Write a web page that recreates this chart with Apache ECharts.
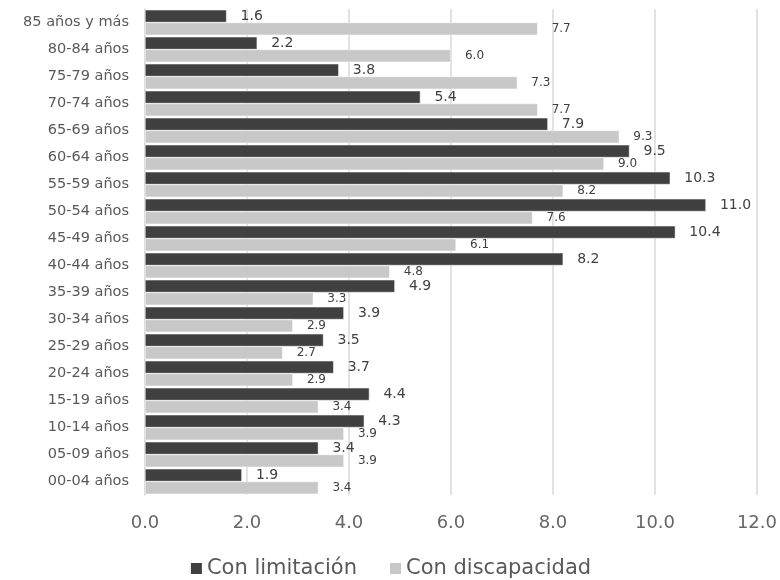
<!DOCTYPE html>
<html><head><meta charset="utf-8">
<script src="https://cdn.jsdelivr.net/npm/echarts@6/dist/echarts.min.js"></script>
<style>html,body{margin:0;padding:0;background:#fff}#c{width:780px;height:580px}</style>
</head><body><div id="c"></div>
<script>
const categories = ["85 años y más","80-84 años","75-79 años","70-74 años","65-69 años","60-64 años","55-59 años","50-54 años","45-49 años","40-44 años","35-39 años","30-34 años","25-29 años","20-24 años","15-19 años","10-14 años","05-09 años","00-04 años"];
const conLimitacion = [1.6,2.2,3.8,5.4,7.9,9.5,10.3,11.0,10.4,8.2,4.9,3.9,3.5,3.7,4.4,4.3,3.4,1.9];
const conDiscapacidad = [7.7,6.0,7.3,7.7,9.3,9.0,8.2,7.6,6.1,4.8,3.3,2.9,2.7,2.9,3.4,3.9,3.9,3.4];
const xTicks = {min:0, max:12, interval:2};

const font = 'DejaVu Sans';
const chart = echarts.init(document.getElementById('c'), null, {renderer:'canvas'});
chart.setOption({
  animation:false,
  textStyle:{fontFamily:font},
  grid:{left:145, right:21, top:9, bottom:85, containLabel:false},
  xAxis:{type:'value', min:xTicks.min, max:xTicks.max, interval:xTicks.interval,
    axisLine:{show:false}, axisTick:{show:false},
    splitLine:{lineStyle:{color:'#d9d9d9', width:1.5}},
    axisLabel:{formatter:v=>v.toFixed(1), color:'#666666', fontSize:18, margin:19, fontFamily:font}},
  yAxis:{type:'category', data:categories, inverse:true,
    axisLine:{lineStyle:{color:'#d9d9d9', width:1.5}}, axisTick:{show:false},
    axisLabel:{color:'#595959', fontSize:14.5, margin:16, fontFamily:font}},
  legend:{top:553, left:'center', itemWidth:13, itemHeight:13, itemGap:31, icon:'rect',
    textStyle:{color:'#595959', fontSize:21, fontFamily:font, padding:[0,0,0,-1]},
    data:['Con limitación','Con discapacidad']},
  series:[
    {name:'Con limitación', type:'bar', data:conLimitacion, barGap:'0%', barCategoryGap:'6%',
     itemStyle:{color:'#404040', borderColor:'#ffffff', borderWidth:0.5},
     label:{show:true, position:'right', distance:14, color:'#404040', fontSize:14, fontFamily:font, formatter:p=>p.value.toFixed(1)}},
    {name:'Con discapacidad', type:'bar', data:conDiscapacidad, barGap:'0%', barCategoryGap:'6%',
     itemStyle:{color:'#c8c8c8', borderColor:'#ffffff', borderWidth:0.5},
     label:{show:true, position:'right', distance:14, color:'#404040', fontSize:12, fontFamily:font, formatter:p=>p.value.toFixed(1)}}
  ]
});
</script></body></html>
